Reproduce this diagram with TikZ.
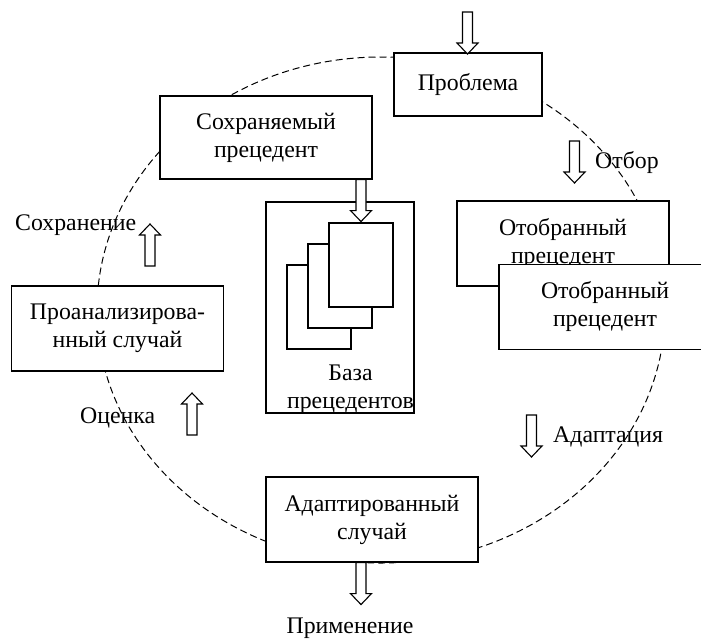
\documentclass[tikz,border=0pt]{standalone}
\usepackage{fontspec}
\setmainfont{Liberation Serif}
\begin{document}
\begin{tikzpicture}[x=1pt,y=-1pt,
  every node/.style={font=\fontsize{23.8}{28}\selectfont},
  box/.style={draw, fill=white, line width=1.1pt, align=center, inner sep=0pt, minimum width=212pt, minimum height=85pt},
  lbl/.style={inner sep=0pt},
  page/.style={draw, fill=white, line width=1.1pt, minimum width=64pt, minimum height=84pt, inner sep=0pt},
  arrowline/.style={draw, fill=white, line width=1.1pt, line join=miter},
  cycleline/.style={dash pattern=on 7pt off 4pt, line width=1pt},
  harrow/.pic={\path[arrowline] (0,-5) -- (31,-5) -- (31,-10.5) -- (42,0) -- (31,10.5) -- (31,5) -- (0,5) -- cycle;}
]
\clip (0,0) rectangle (701,638);
\useasboundingbox (0,0) rectangle (701,638);

% process cycle
\draw[cycleline] (381,310) ellipse [x radius=284, y radius=253];

% boxes
\node[box, minimum width=148pt, minimum height=63pt] (prob) at (468,84.5) {Проблема};
\node[box, minimum height=83pt] (sohr) at (266,137.5) {Сохраняемый\\прецедент};
\node[box, minimum width=148pt, minimum height=211pt] (base) at (340,307.5) {};
\node[page] (pg3) at (319,307) {};
\node[page] (pg2) at (340,286) {};
\node[page] (pg1) at (361,265) {};
\node[lbl, align=center] (basetxt) at (350.5,389) {База\\прецедентов};
\node[box] (otb1) at (563,243.5) {Отобранный\\прецедент};
\node[box] (otb2) at (605,307) {Отобранный\\прецедент};
\node[box] (proan) at (117.5,328.5) {Проанализирова-\\нный случай};
\node[box] (adapt) at (372,519.5) {Адаптированный\\случай};

% labels
\node[lbl, anchor=west] (lotb) at (595,163) {Отбор};
\node[lbl, anchor=west] (lsohr) at (15,225) {Сохранение};
\node[lbl, anchor=west] (locen) at (80,418) {Оценка};
\node[lbl, anchor=west] (lad) at (553,437) {Адаптация};
\node[lbl] (lprim) at (350,628) {Применение};

% hollow arrows
\coordinate (intop) at (467.5,12);
\pic[rotate=-90] at (intop) {harrow};
\pic[rotate=-90] at (574.5,141) {harrow};
\pic[rotate=-90] at (sohr.south -| pg1.north) {harrow};
\pic[rotate=90] at (150,266) {harrow};
\pic[rotate=90] at (192,435) {harrow};
\pic[rotate=-90] at (531.5,415) {harrow};
\pic[rotate=-90] at ([xshift=-11pt]adapt.south) {harrow};
\end{tikzpicture}
\end{document}
